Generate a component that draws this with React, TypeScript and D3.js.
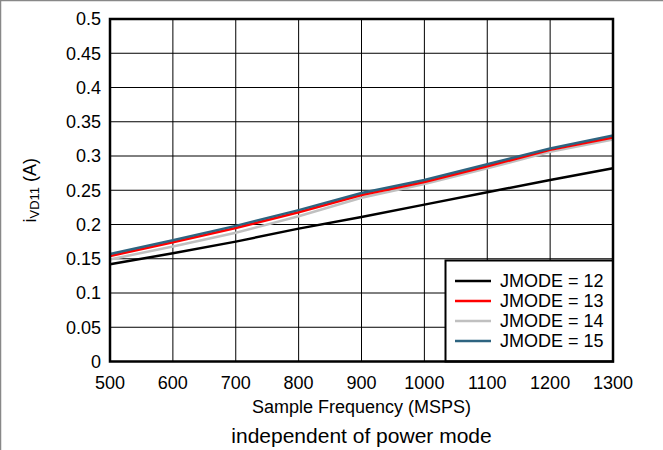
import React from "react";
import * as d3 from "d3";

const freqs = [500, 600, 700, 800, 900, 1000, 1100, 1200, 1300];
const jmode12 = [0.142, 0.158, 0.175, 0.194, 0.211, 0.229, 0.247, 0.265, 0.282];
const jmode13 = [0.154, 0.174, 0.195, 0.218, 0.243, 0.262, 0.285, 0.309, 0.327];
const jmode14 = [0.149, 0.168, 0.188, 0.212, 0.239, 0.259, 0.282, 0.306, 0.324];
const jmode15 = [0.157, 0.177, 0.198, 0.221, 0.246, 0.265, 0.288, 0.311, 0.330];
const seriesNames = ["JMODE = 12", "JMODE = 13", "JMODE = 14", "JMODE = 15"];
const seriesColors = ["#000000", "#ff0000", "#c0c0c0", "#2e6480"];
const xTicks = [500, 600, 700, 800, 900, 1000, 1100, 1200, 1300];
const yTicks = [0, 0.05, 0.1, 0.15, 0.2, 0.25, 0.3, 0.35, 0.4, 0.45, 0.5];

const W = 663, H = 450;
const L = 110, R = 613, T = 19, B = 361.5;

export default function App() {
  const x = d3.scaleLinear().domain([500, 1300]).range([L, R]);
  const y = d3.scaleLinear().domain([0, 0.5]).range([B, T]);
  const all = [jmode12, jmode13, jmode14, jmode15];
  const drawOrder = [0, 2, 1, 3];
  const line = d3.line<number>().x((_, i) => x(freqs[i])).y((d) => y(d));
  const font = "'Liberation Sans', Arial, sans-serif";
  const fs = 18;
  const legX = 445.5, legY = 260.5;
  return (
    <svg width={W} height={H} style={{ position: "absolute", left: 0, top: 0, background: "#fff" }} fontFamily={font}>
      <rect x={0} y={0} width={W} height={H} fill="#fff" />
      <line x1={0} y1={0.5} x2={W} y2={0.5} stroke="#888" strokeWidth={1.5} />
      <line x1={0.5} y1={0} x2={0.5} y2={H} stroke="#888" strokeWidth={1.5} />
      {xTicks.slice(1, -1).map((t) => (
        <line key={"gx" + t} x1={x(t)} x2={x(t)} y1={T} y2={B} stroke="#000" strokeWidth={1} />
      ))}
      {yTicks.slice(1, -1).map((t) => (
        <line key={"gy" + t} x1={L} x2={R} y1={y(t)} y2={y(t)} stroke="#000" strokeWidth={1} />
      ))}
      {drawOrder.map((k) => (
        <path key={"s" + k} d={line(all[k]) || ""} fill="none" stroke={seriesColors[k]} strokeWidth={2.5} />
      ))}
      <rect x={legX} y={legY} width={R - legX} height={B - legY} fill="#fff" stroke="#000" strokeWidth={2} />
      {seriesNames.map((n, i) => (
        <g key={n}>
          <line x1={455} x2={491} y1={281 + i * 20} y2={281 + i * 20} stroke={seriesColors[i]} strokeWidth={2.5} />
          <text x={500} y={281 + i * 20} dy="0.36em" fontSize={fs} fill="#000">{n}</text>
        </g>
      ))}
      <rect x={L} y={T} width={R - L} height={B - T} fill="none" stroke="#000" strokeWidth={2.5} />
      {yTicks.map((t) => (
        <text key={"yt" + t} x={L - 9} y={y(t)} dy="0.36em" textAnchor="end" fontSize={fs} fill="#000">{String(t)}</text>
      ))}
      {xTicks.map((t) => (
        <text key={"xt" + t} x={x(t)} y={389} textAnchor="middle" fontSize={fs} fill="#000">{t}</text>
      ))}
      <text x={(L + R) / 2} y={413} textAnchor="middle" fontSize={fs} fill="#000">Sample Frequency (MSPS)</text>
      <text x={(L + R) / 2} y={443} textAnchor="middle" fontSize={21} fill="#000">independent of power mode</text>
      <text transform={`translate(36, ${(T + B) / 2}) rotate(-90)`} textAnchor="middle" fontSize={fs} fill="#000">
        i<tspan fontSize={13} dy={3}>VD11</tspan><tspan dy={-3}> (A)</tspan>
      </text>
    </svg>
  );
}
